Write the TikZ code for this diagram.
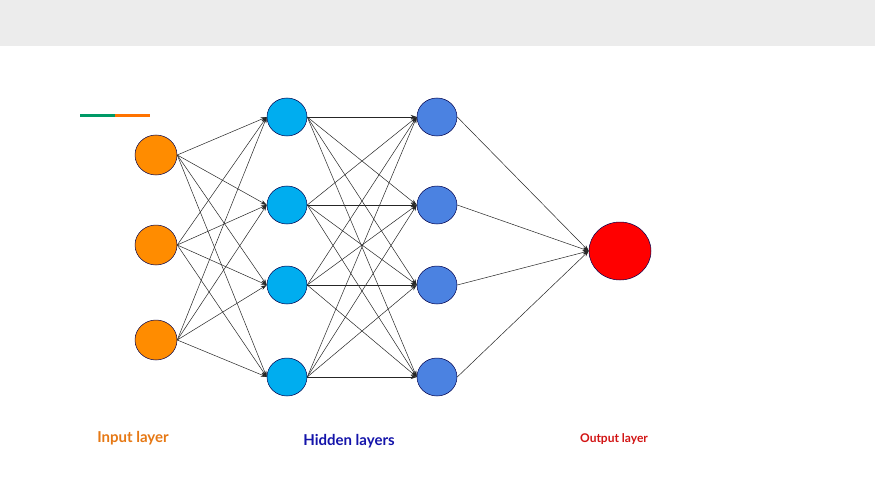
\documentclass[tikz,border=0pt]{standalone}
\usepackage{fontspec}
\setmainfont{Lato}
\usetikzlibrary{arrows.meta,shapes.geometric}
\begin{document}
\begin{tikzpicture}[x=1pt,y=-1pt,
  neuron/.style={draw=black!70!blue,line width=0.5pt,ellipse,inner sep=0pt},
  conn/.style={draw=black!85,line width=0.5pt,-{Stealth[length=6pt,width=4pt]}},
  lbl/.style={font=\bfseries}]
\useasboundingbox (0,0) rectangle (875,492);
\fill[white] (0,0) rectangle (875,492);
\fill[gray!15!white] (0,0) rectangle (875,46);
\draw[line width=3pt,color=teal!80!green] (80,116) -- (115,116);
\draw[line width=3pt,color=orange!90!red] (115,116) -- (150,116);
\foreach \i/\y in {1/155,2/245,3/340}
  \node[neuron,fill=orange!90!yellow,minimum width=42pt,minimum height=40pt] (i\i) at (156,\y) {};
\foreach \i/\y in {1/117,2/205,3/285,4/377}{
  \node[neuron,fill=cyan,minimum width=40pt,minimum height=38pt] (h\i) at (287,\y) {};
  \node[neuron,fill={rgb,255:red,75;green,130;blue,225},minimum width=40pt,minimum height=38pt] (g\i) at (437,\y) {};}
\node[neuron,fill=red,minimum width=62pt,minimum height=58pt] (o) at (620,251) {};
\foreach \a in {1,2,3} \foreach \b in {1,2,3,4} \draw[conn] (i\a.east) -- (h\b.west);
\foreach \a in {1,2,3,4} \foreach \b in {1,2,3,4} \draw[conn] (h\a.east) -- (g\b.west);
\foreach \a in {1,2,3,4} \draw[conn] (g\a.east) -- (o.west);
\node[lbl,text={rgb,255:red,230;green,120;blue,20},font=\bfseries\fontsize{15}{18}\selectfont] (li) at (133,438) {Input layer};
\node[lbl,text={rgb,255:red,20;green,20;blue,170},font=\bfseries\fontsize{15}{18}\selectfont] (lh) at (349,441) {Hidden layers};
\node[lbl,text={rgb,255:red,210;green,20;blue,20},font=\bfseries\fontsize{12}{14}\selectfont] (lo) at (614,439) {Output layer};
\end{tikzpicture}
\end{document}
